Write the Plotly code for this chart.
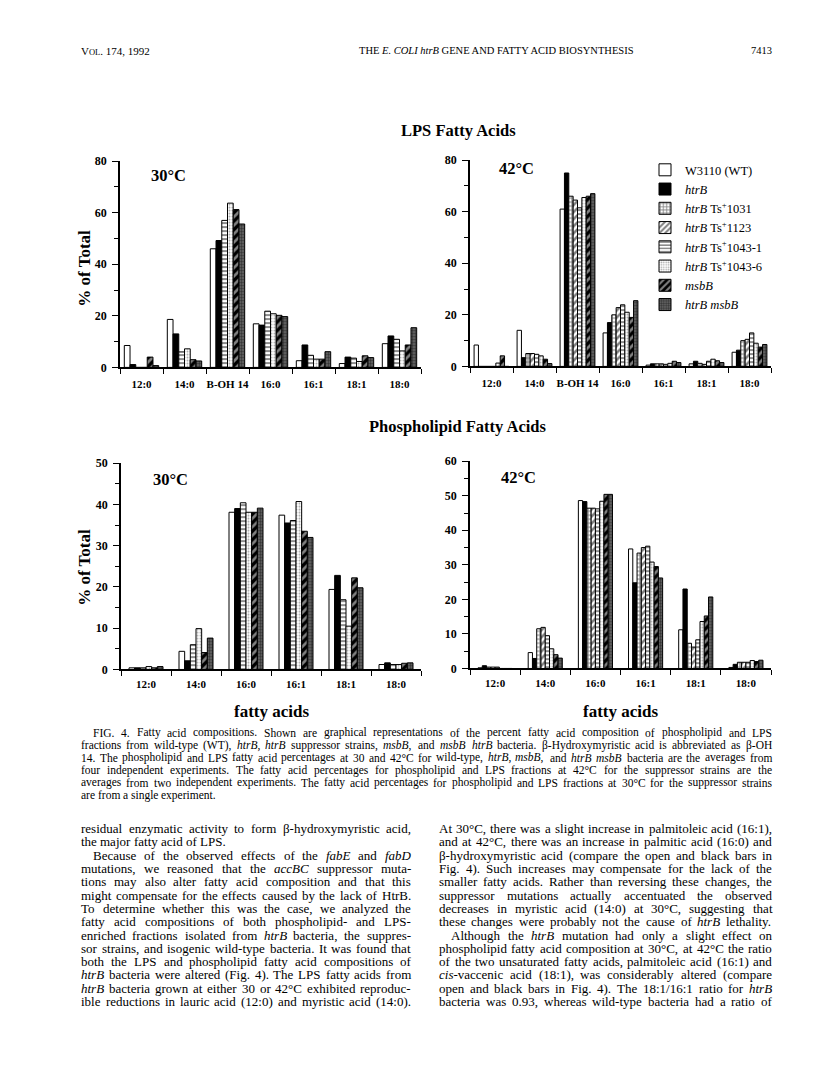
import re
import plotly.graph_objects as go

W, H = 816, 1088

# ---------------- data ----------------
series_names = ["W3110 (WT)", "<i>htrB</i>", "<i>htrB</i> Ts<sup>+</sup>1031",
                "<i>htrB</i> Ts<sup>+</sup>1123", "<i>htrB</i> Ts<sup>+</sup>1043-1",
                "<i>htrB</i> Ts<sup>+</sup>1043-6", "<i>msbB</i>", "<i>htrB msbB</i>"]

lps_cats = ["12:0", "14:0", "B-OH 14", "16:0", "16:1", "18:1", "18:0"]
pl_cats = ["12:0", "14:0", "16:0", "16:1", "18:1", "18:0"]

# LPS fatty acids, 30 C (suppressor strains 1031 / 1123 not shown)
lps30_wt = [8.5, 18.6, 46.0, 16.9, 2.6, 1.5, 9.2]
lps30_htrB = [1.1, 13.0, 49.2, 16.4, 8.7, 4.0, 12.2]
lps30_1043_1 = [0.0, 6.0, 57.0, 21.8, 4.7, 3.6, 10.9]
lps30_1043_6 = [0.0, 7.2, 63.7, 20.8, 3.2, 2.3, 6.4]
lps30_msbB = [4.0, 3.0, 61.2, 20.2, 3.2, 4.5, 8.7]
lps30_htrB_msbB = [0.7, 2.5, 55.6, 19.7, 6.1, 3.8, 15.4]

# LPS fatty acids, 42 C
lps42_wt = [8.3, 14.0, 61.0, 13.0, 0.5, 1.0, 5.5]
lps42_htrB = [0.0, 3.4, 75.0, 17.0, 1.0, 2.0, 6.3]
lps42_1031 = [0.0, 5.0, 66.0, 20.0, 1.0, 1.2, 10.0]
lps42_1123 = [0.0, 5.0, 64.5, 22.8, 1.0, 0.8, 10.5]
lps42_1043_1 = [0.0, 4.7, 61.5, 23.9, 0.8, 2.0, 13.0]
lps42_1043_6 = [1.3, 4.1, 65.5, 21.0, 1.2, 2.8, 9.0]
lps42_msbB = [4.1, 2.8, 66.0, 19.0, 2.0, 2.2, 7.5]
lps42_htrB_msbB = [0.0, 1.1, 67.0, 25.5, 1.5, 1.5, 8.5]

# Phospholipid fatty acids, 30 C
pl30_wt = [0.4, 4.4, 38.1, 37.4, 19.4, 1.2]
pl30_htrB = [0.4, 2.1, 39.0, 35.5, 22.8, 1.6]
pl30_1043_1 = [0.4, 6.0, 40.4, 36.1, 16.9, 1.2]
pl30_1043_6 = [0.7, 9.9, 38.1, 40.7, 10.5, 1.2]
pl30_msbB = [0.4, 4.1, 38.1, 33.5, 22.2, 1.5]
pl30_htrB_msbB = [0.7, 7.6, 39.1, 32.0, 19.8, 1.6]

# Phospholipid fatty acids, 42 C
pl42_wt = [0.2, 4.6, 48.6, 34.6, 11.2, 0.3]
pl42_htrB = [0.8, 2.9, 48.3, 24.8, 23.0, 1.2]
pl42_1031 = [0.4, 11.5, 46.4, 33.4, 7.3, 1.8]
pl42_1123 = [0.4, 11.9, 46.4, 35.0, 6.2, 1.8]
pl42_1043_1 = [0.4, 9.5, 46.2, 35.4, 8.3, 1.8]
pl42_1043_6 = [0.0, 5.7, 48.4, 30.8, 13.6, 2.3]
pl42_msbB = [0.0, 4.0, 50.4, 29.5, 15.2, 2.0]
pl42_htrB_msbB = [0.0, 3.0, 50.4, 26.2, 20.7, 2.4]

# ---------------- styles ----------------
STYLES = [
    dict(color="white", pattern=dict(shape="")),
    dict(color="black", pattern=dict(shape="")),
    dict(color="white", pattern=dict(shape="+", fgcolor="black", bgcolor="white", size=4, solidity=0.5)),
    dict(color="white", pattern=dict(shape="/", fgcolor="black", bgcolor="white", size=5, solidity=0.5)),
    dict(color="white", pattern=dict(shape="-", fgcolor="black", bgcolor="white", size=4, solidity=0.45)),
    dict(color="white", pattern=dict(shape=".", fgcolor="#555555", bgcolor="white", size=3, solidity=0.35)),
    dict(color="black", pattern=dict(shape="/", fgcolor="white", bgcolor="black", size=6, solidity=0.45)),
    dict(color="#555555", pattern=dict(shape=".", fgcolor="black", bgcolor="#6a6a6a", size=3, solidity=0.5)),
]

FONT = "Liberation Serif"


def px(x):
    return x / W


def py(y):
    return 1 - y / H


fig = go.Figure()

panels = [
    ("x", "y", lps_cats, [(0, lps30_wt), (1, lps30_htrB), (4, lps30_1043_1), (5, lps30_1043_6),
                          (6, lps30_msbB), (7, lps30_htrB_msbB)], 0.80, False),
    ("x2", "y2", lps_cats, [(0, lps42_wt), (1, lps42_htrB), (2, lps42_1031), (3, lps42_1123),
                            (4, lps42_1043_1), (5, lps42_1043_6), (6, lps42_msbB), (7, lps42_htrB_msbB)], 0.81, True),
    ("x3", "y3", pl_cats, [(0, pl30_wt), (1, pl30_htrB), (4, pl30_1043_1), (5, pl30_1043_6),
                           (6, pl30_msbB), (7, pl30_htrB_msbB)], 0.68, False),
    ("x4", "y4", pl_cats, [(0, pl42_wt), (1, pl42_htrB), (2, pl42_1031), (3, pl42_1123),
                           (4, pl42_1043_1), (5, pl42_1043_6), (6, pl42_msbB), (7, pl42_htrB_msbB)], 0.68, False),
]

for xa, ya, cats, series, frac, leg in panels:
    n = len(series)
    w = frac / n
    for k, (si, vals) in enumerate(series):
        st = STYLES[si]
        fig.add_trace(go.Bar(
            x=cats, y=vals, xaxis=xa, yaxis=ya,
            name=series_names[si], showlegend=leg,
            width=w, offset=-frac / 2 + k * w,
            marker=dict(color=st["color"], line=dict(color="black", width=1),
                        pattern=st["pattern"]),
            hoverinfo="skip",
        ))

axis_common_x = dict(type="category", tickson="boundaries", ticks="outside", ticklen=5,
                     tickcolor="black", tickwidth=1.2, showline=True, linecolor="black",
                     linewidth=1.5, showgrid=False, zeroline=False, tickangle=0,
                     tickfont=dict(family=FONT, size=11, color="black", weight="bold"))
axis_common_y = dict(ticks="outside", ticklen=6, tickcolor="black", tickwidth=1.2,
                     showline=True, linecolor="black", linewidth=1.5, showgrid=False,
                     zeroline=False, ticklabelstandoff=3,
                     tickfont=dict(family=FONT, size=12, color="black", weight="bold"))

fig.update_layout(
    xaxis=dict(domain=[px(112), px(413)], anchor="y", range=[-0.5, 6.5], ticklabelstandoff=6, **axis_common_x),
    yaxis=dict(domain=[py(357), py(148)], anchor="x", range=[0, 80], dtick=20,
               minor=dict(dtick=10, ticks="outside", ticklen=4, tickcolor="black"), **axis_common_y),
    xaxis2=dict(domain=[px(462), px(763)], anchor="y2", range=[-0.5, 6.5], ticklabelstandoff=6, **axis_common_x),
    yaxis2=dict(domain=[py(356), py(147)], anchor="x2", range=[0, 80], dtick=20,
                minor=dict(dtick=10, ticks="outside", ticklen=4, tickcolor="black"), **axis_common_y),
    xaxis3=dict(domain=[px(113), px(413)], anchor="y3", range=[-0.5, 5.5], ticklabelstandoff=4, **axis_common_x),
    yaxis3=dict(domain=[py(663), py(454)], anchor="x3", range=[0, 50], dtick=10,
                minor=dict(dtick=5, ticks="outside", ticklen=4, tickcolor="black"), **axis_common_y),
    xaxis4=dict(domain=[px(462), px(763)], anchor="y4", range=[-0.5, 5.5], ticklabelstandoff=4, **axis_common_x),
    yaxis4=dict(domain=[py(662), py(452)], anchor="x4", range=[0, 60], dtick=10,
                minor=dict(dtick=5, ticks="outside", ticklen=4, tickcolor="black"), **axis_common_y),
)

fig.update_layout(
    width=W, height=H, margin=dict(l=0, r=0, t=0, b=0),
    paper_bgcolor="white", plot_bgcolor="white",
    barmode="overlay",
    font=dict(family=FONT, color="black"),
    showlegend=True,
    legend=dict(x=px(637), y=py(142), xanchor="left", yanchor="top",
                font=dict(family=FONT, size=12.5, color="black"),
                bgcolor="rgba(0,0,0,0)", itemwidth=30, tracegroupgap=0,
                traceorder="normal", itemclick=False, itemdoubleclick=False),
)

annots = []


def ann(x, y, text, size, bold=False, xanchor="center", angle=0):
    t = f"<b>{text}</b>" if bold else text
    annots.append(dict(x=px(x), y=py(y), xref="paper", yref="paper", text=t,
                       showarrow=False, xanchor=xanchor, yanchor="middle",
                       textangle=angle, borderpad=0, borderwidth=0,
                       font=dict(family=FONT, size=size, color="black")))


# running header
ann(73, 36, "V<span style='font-size:8.5px'>OL</span>. 174, 1992", 11, xanchor="left")
ann(351, 36, "THE <i>E. COLI htrB</i> GENE AND FATTY ACID BIOSYNTHESIS", 10.5, xanchor="left")
ann(764, 36, "7413", 10.5, xanchor="right")

# chart titles
ann(450, 117, "LPS Fatty Acids", 16.5, bold=True)
ann(450, 417, "Phospholipid Fatty Acids", 16.5, bold=True)

# panel labels
ann(160, 163, "30°C", 16.5, bold=True)
ann(508, 155, "42°C", 16.5, bold=True)
ann(162, 471, "30°C", 16.5, bold=True)
ann(510, 469, "42°C", 16.5, bold=True)

# axis titles
ann(77, 257, "% of Total", 17, bold=True, angle=-90)
ann(77, 560, "% of Total", 17, bold=True, angle=-90)
ann(263, 706, "fatty acids", 17, bold=True)
ann(612, 706, "fatty acids", 17, bold=True)

# ---------------- justified text blocks ----------------
TW = {' ': 250, '!': 333, '"': 408, '%': 833, '&': 778, "'": 333, '(': 333, ')': 333,
      ',': 250, '-': 333, '.': 250, '/': 278, ':': 278, ';': 278, '?': 444, '°': 400, 'β': 500}
TW.update(dict(zip("ABCDEFGHIJKLMNOPQRSTUVWXYZ",
                   [722, 667, 667, 722, 611, 556, 722, 722, 333, 389, 722, 611, 889, 722, 722,
                    556, 722, 667, 556, 611, 722, 722, 944, 722, 722, 611])))
TW.update(dict(zip("abcdefghijklmnopqrstuvwxyz",
                   [444, 500, 444, 500, 444, 333, 500, 500, 278, 278, 500, 278, 778, 500, 500,
                    500, 500, 333, 389, 278, 500, 500, 722, 500, 500, 444])))


def tw(s):
    s = re.sub(r"<[^>]+>", "", s)
    return sum(TW.get(c, 500) for c in s) / 1000.0


def text_block(lines, x0, x1, y0, dy, indents, justify, max_size):
    sizes = []
    for ln, ind, j in zip(lines, indents, justify):
        if j:
            sizes.append((x1 - x0 - ind) / tw(ln))
    size = min(min(sizes) * 0.995, max_size)
    for i, (ln, ind, j) in enumerate(zip(lines, indents, justify)):
        words = ln.split(" ")
        widths = [tw(wd) * size for wd in words]
        avail = x1 - x0 - ind
        if j and len(words) > 1:
            gap = (avail - sum(widths)) / (len(words) - 1)
        else:
            gap = 0.25 * size
        x = x0 + ind
        for wd, wdt in zip(words, widths):
            annots.append(dict(x=px(x), y=py(y0 + i * dy), xref="paper", yref="paper",
                               text=wd, showarrow=False, xanchor="left", yanchor="middle",
                               borderpad=0, borderwidth=0,
                               font=dict(family=FONT, size=size, color="black")))
            x += wdt + gap


caption = [
    "FIG. 4. Fatty acid compositions. Shown are graphical representations of the percent fatty acid composition of phospholipid and LPS",
    "fractions from wild-type (WT), <i>htrB</i>, <i>htrB</i> suppressor strains, <i>msbB</i>, and <i>msbB</i> <i>htrB</i> bacteria. β-Hydroxymyristic acid is abbreviated as β-OH",
    "14. The phospholipid and LPS fatty acid percentages at 30 and 42°C for wild-type, <i>htrB</i>, <i>msbB</i>, and <i>htrB</i> <i>msbB</i> bacteria are the averages from",
    "four independent experiments. The fatty acid percentages for phospholipid and LPS fractions at 42°C for the suppressor strains are the",
    "averages from two independent experiments. The fatty acid percentages for phospholipid and LPS fractions at 30°C for the suppressor strains",
    "are from a single experiment.",
]
text_block(caption, 73, 764, 727, 12.7, [12, 0, 0, 0, 0, 0],
           [True, True, True, True, True, False], 11.5)

left_col = [
    "residual enzymatic activity to form β-hydroxymyristic acid,",
    "the major fatty acid of LPS.",
    "Because of the observed effects of the <i>fabE</i> and <i>fabD</i>",
    "mutations, we reasoned that the <i>accBC</i> suppressor muta-",
    "tions may also alter fatty acid composition and that this",
    "might compensate for the effects caused by the lack of HtrB.",
    "To determine whether this was the case, we analyzed the",
    "fatty acid compositions of both phospholipid- and LPS-",
    "enriched fractions isolated from <i>htrB</i> bacteria, the suppres-",
    "sor strains, and isogenic wild-type bacteria. It was found that",
    "both the LPS and phospholipid fatty acid compositions of",
    "<i>htrB</i> bacteria were altered (Fig. 4). The LPS fatty acids from",
    "<i>htrB</i> bacteria grown at either 30 or 42°C exhibited reproduc-",
    "ible reductions in lauric acid (12:0) and myristic acid (14:0).",
]
right_col = [
    "At 30°C, there was a slight increase in palmitoleic acid (16:1),",
    "and at 42°C, there was an increase in palmitic acid (16:0) and",
    "β-hydroxymyristic acid (compare the open and black bars in",
    "Fig. 4). Such increases may compensate for the lack of the",
    "smaller fatty acids. Rather than reversing these changes, the",
    "suppressor mutations actually accentuated the observed",
    "decreases in myristic acid (14:0) at 30°C, suggesting that",
    "these changes were probably not the cause of <i>htrB</i> lethality.",
    "Although the <i>htrB</i> mutation had only a slight effect on",
    "phospholipid fatty acid composition at 30°C, at 42°C the ratio",
    "of the two unsaturated fatty acids, palmitoleic acid (16:1) and",
    "<i>cis</i>-vaccenic acid (18:1), was considerably altered (compare",
    "open and black bars in Fig. 4). The 18:1/16:1 ratio for <i>htrB</i>",
    "bacteria was 0.93, whereas wild-type bacteria had a ratio of",
]
left_ind = [0, 0, 12] + [0] * 11
left_just = [True, False] + [True] * 12
text_block(left_col, 73, 403, 824, 13.5, left_ind, left_just, 13)
right_ind = [0] * 8 + [12] + [0] * 5
text_block(right_col, 431, 764, 824, 13.5, right_ind, [True] * 14, 13)

fig.update_layout(annotations=annots)

fig.write_html("out.html")
